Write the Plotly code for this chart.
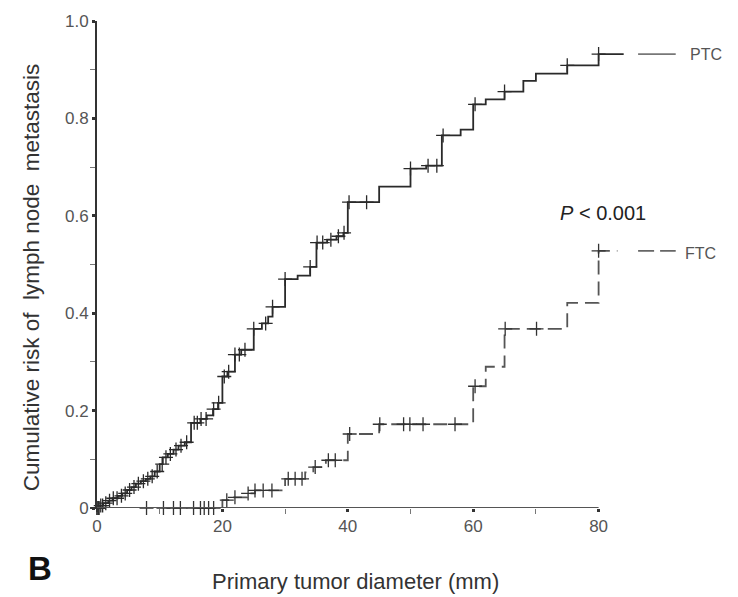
import bisect
import plotly.graph_objects as go

# ---------------- data ----------------
# PTC cumulative-risk step function (x where value changes, new value)
ptc_x = [0, 0.5, 1.0, 1.8, 2.5, 3.3, 4.0, 4.8, 5.5, 6.2, 7.0, 7.8, 8.5, 9.2, 10.0,
         10.5, 11.3, 12.2, 13.0, 14.0, 15.0, 16.5, 17.5, 18.5, 19.3, 20.0, 20.8,
         22.0, 23.0, 25.0, 26.3, 27.3, 28.0, 30.0, 32.0, 34.0, 35.0, 36.7, 38.2,
         39.3, 40.0, 45.0, 50.0, 52.5, 55.0, 58.0, 60.0, 62.0, 65.0, 68.0, 70.0,
         75.0, 80.0, 84.0]
ptc_y = [0, 0.005, 0.01, 0.015, 0.02, 0.025, 0.03, 0.037, 0.043, 0.05, 0.055, 0.06,
         0.065, 0.075, 0.09, 0.104, 0.111, 0.12, 0.128, 0.135, 0.175, 0.183, 0.19,
         0.203, 0.216, 0.27, 0.28, 0.315, 0.325, 0.368, 0.379, 0.393, 0.413, 0.47,
         0.477, 0.495, 0.545, 0.551, 0.558, 0.565, 0.628, 0.66, 0.697, 0.703, 0.765,
         0.777, 0.829, 0.839, 0.855, 0.877, 0.892, 0.909, 0.932, 0.932]
ptc_censored = [0, 0.2, 0.3, 0.6, 0.9, 1.4, 2.0, 2.6, 3.2, 3.9, 4.5, 5.2, 5.9, 6.6,
                7.4, 8.1, 8.8, 9.6, 10.4, 11.0, 11.7, 12.6, 13.4, 14.3, 15.5, 16.0,
                16.6, 17.4, 18.6, 19.4, 20.3, 21.0, 22.0, 22.7, 23.6, 25.0, 26.9,
                28.0, 30.0, 34.0, 35.1, 36.0, 37.3, 38.5, 39.4, 40.2, 43.0, 50.0,
                52.8, 54.2, 55.2, 60.3, 65.0, 75.0, 80.0]

# FTC cumulative-risk step function
ftc_x = [0, 20.0, 21.2, 23.9, 25.2, 30.0, 33.2, 34.5, 36.5, 40.0, 45.0, 60.0, 62.0,
         65.0, 75.0, 80.0, 83.0]
ftc_y = [0, 0.016, 0.022, 0.03, 0.036, 0.06, 0.073, 0.084, 0.098, 0.152, 0.172,
         0.25, 0.29, 0.368, 0.421, 0.528, 0.528]
ftc_censored = [0, 0.3, 7.9, 10.6, 12.2, 13.3, 15.4, 16.5, 17.1, 17.8, 18.6, 20.7,
                22.0, 24.1, 25.2, 26.5, 27.9, 30.5, 31.6, 32.7, 34.8, 36.9, 38.0,
                40.3, 45.1, 48.9, 49.9, 52.0, 57.1, 60.3, 65.1, 70.1, 80.0]

x_ticks = [0, 20, 40, 60, 80]
x_minor = [10, 30, 50, 70]
y_ticks = [0, 0.2, 0.4, 0.6, 0.8, 1.0]
y_ticktext = ["0", "0.2", "0.4", "0.6", "0.8", "1.0"]
y_minor = [0.1, 0.3, 0.5, 0.7, 0.9]


def step_value(xs, ys, x):
    i = bisect.bisect_right(xs, x) - 1
    return ys[max(i, 0)]


FONT = "Liberation Sans, Arial, sans-serif"
PTC_COLOR = "#2a2a2a"
FTC_COLOR = "#555555"

fig = go.Figure()

fig.add_trace(go.Scatter(x=ptc_x, y=ptc_y, mode="lines", line_shape="hv",
                         line=dict(color=PTC_COLOR, width=1.8), showlegend=False))
fig.add_trace(go.Scatter(x=ptc_censored,
                         y=[step_value(ptc_x, ptc_y, v) for v in ptc_censored],
                         mode="markers", cliponaxis=False,
                         marker=dict(symbol="cross-thin", size=10,
                                     line=dict(color=PTC_COLOR, width=1.3)),
                         showlegend=False))

fig.add_trace(go.Scatter(x=ftc_x, y=ftc_y, mode="lines", line_shape="hv",
                         line=dict(color=FTC_COLOR, width=1.8, dash="14px,7px"),
                         showlegend=False))
fig.add_trace(go.Scatter(x=ftc_censored,
                         y=[step_value(ftc_x, ftc_y, v) for v in ftc_censored],
                         mode="markers", cliponaxis=False,
                         marker=dict(symbol="cross-thin", size=10,
                                     line=dict(color="#333333", width=1.3)),
                         showlegend=False))

# x-axis line only across 0..80
fig.add_shape(type="line", xref="x", yref="y", x0=0, x1=80, y0=0, y1=0,
              line=dict(color="#555555", width=2), layer="above")

# legend samples
fig.add_shape(type="line", xref="x", yref="y", x0=86.3, x1=92.3, y0=0.932, y1=0.932,
              line=dict(color="#777777", width=1.8))
fig.add_shape(type="line", xref="x", yref="y", x0=86.3, x1=92.3, y0=0.528, y1=0.528,
              line=dict(color="#666666", width=1.8, dash="16px,6px"))

fig.add_annotation(x=94.2, y=0.932, xref="x", yref="y", text="PTC", showarrow=False,
                   xanchor="left", yanchor="middle",
                   font=dict(family=FONT, size=16, color="#555555"))
fig.add_annotation(x=93.5, y=0.522, xref="x", yref="y", text="FTC", showarrow=False,
                   xanchor="left", yanchor="middle",
                   font=dict(family=FONT, size=16, color="#555555"))
fig.add_annotation(x=80.7, y=0.606, xref="x", yref="y", text="<i>P</i> < 0.001",
                   showarrow=False, xanchor="center", yanchor="middle",
                   font=dict(family=FONT, size=20, color="#222222"))

# axis titles and panel letter
fig.add_annotation(x=41.2, y=-0.150, xref="x", yref="paper",
                   text="Primary tumor diameter (mm)", showarrow=False,
                   xanchor="center", yanchor="middle",
                   font=dict(family=FONT, size=22, color="#333333"))
fig.add_annotation(x=-0.105, y=0.474, xref="paper", yref="paper",
                   text="Cumulative risk of  lymph node  metastasis", textangle=-90,
                   showarrow=False, xanchor="center", yanchor="middle",
                   font=dict(family=FONT, size=22.5, color="#333333"))
fig.add_annotation(x=-0.091, y=-0.124, xref="paper", yref="paper", text="<b>B</b>",
                   showarrow=False, xanchor="center", yanchor="middle",
                   font=dict(family=FONT, size=33, color="#111111"))

fig.update_layout(
    width=738, height=597,
    margin=dict(l=97, r=14, t=16, b=89),
    paper_bgcolor="white", plot_bgcolor="white",
    xaxis=dict(range=[0, 100], showgrid=False, zeroline=False, showline=False,
               tickvals=x_ticks, ticktext=[str(v) for v in x_ticks],
               ticks="outside", ticklen=3, tickwidth=3, tickcolor="#333333",
               tickfont=dict(family=FONT, size=17, color="#555555"),
               minor=dict(tickvals=x_minor, ticks="outside", ticklen=5,
                          tickwidth=1, tickcolor="#777777")),
    yaxis=dict(range=[0, 1], showgrid=False, zeroline=False, showline=True,
               linecolor="#333333", linewidth=2,
               tickvals=y_ticks, ticktext=y_ticktext,
               ticks="outside", ticklen=3, tickwidth=3, tickcolor="#333333",
               tickfont=dict(family=FONT, size=17, color="#555555"),
               minor=dict(tickvals=y_minor, ticks="outside", ticklen=5,
                          tickwidth=1, tickcolor="#777777")),
)

# remove the default page margin so the figure sits at the window's corner
fig.write_html("out.html",
               config={"displayModeBar": False},
               post_script="document.body.style.margin='0';"
                           "document.body.style.overflow='hidden';")
